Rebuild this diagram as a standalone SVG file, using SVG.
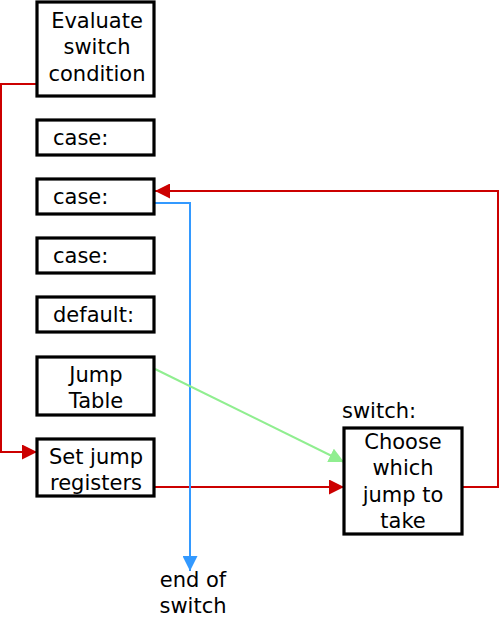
<svg xmlns="http://www.w3.org/2000/svg" width="500" height="620" viewBox="0 0 500 620">
<style>
.box{fill:#fff;stroke:#000;stroke-width:3.2}
.t{font-family:"DejaVu Sans",sans-serif;font-size:21px;fill:#000}
.c{text-anchor:middle}
.red{fill:none;stroke:#cc0000;stroke-width:2}
.blue{fill:none;stroke:#3399ff;stroke-width:2}
.green{fill:none;stroke:#90ee90;stroke-width:2}
</style>
<defs>
<marker id="ar" viewBox="0 0 10 10" refX="10" refY="5" markerWidth="7.5" markerHeight="7.5" markerUnits="strokeWidth" orient="auto"><path d="M0,0L10,5L0,10z" fill="#cc0000"/></marker>
<marker id="ab" viewBox="0 0 10 10" refX="10" refY="5" markerWidth="7.5" markerHeight="7.5" markerUnits="strokeWidth" orient="auto"><path d="M0,0L10,5L0,10z" fill="#3399ff"/></marker>
<marker id="ag" viewBox="0 0 10 10" refX="10" refY="5" markerWidth="7.5" markerHeight="7.5" markerUnits="strokeWidth" orient="auto"><path d="M0,0L10,5L0,10z" fill="#90ee90"/></marker>
</defs>
<g id="connectors">
<path class="red" d="M37,84H1V452H37" marker-end="url(#ar)"/>
<path class="red" d="M155,487H344" marker-end="url(#ar)"/>
<path class="red" d="M463,487H498V191H155" marker-end="url(#ar)"/>
<path class="blue" d="M155,203H190V571" marker-end="url(#ab)"/>
<path class="green" d="M155,369L344,462" marker-end="url(#ag)"/>
</g>
<g id="evaluate"><rect class="box" x="37" y="2" width="117" height="94"/>
<text class="t c" x="97" y="28">Evaluate</text><text class="t c" x="97" y="54">switch</text><text class="t c" x="97" y="81">condition</text></g>
<g id="case1"><rect class="box" x="37" y="120" width="117" height="35"/><text class="t" x="53" y="145">case:</text></g>
<g id="case2"><rect class="box" x="37" y="179" width="117" height="35"/><text class="t" x="53" y="204">case:</text></g>
<g id="case3"><rect class="box" x="37" y="238" width="117" height="35"/><text class="t" x="53" y="263">case:</text></g>
<g id="default"><rect class="box" x="37" y="297" width="117" height="35"/><text class="t" x="53" y="322">default:</text></g>
<g id="jumptable"><rect class="box" x="37" y="357" width="117" height="58"/>
<text class="t c" x="96" y="382">Jump</text><text class="t c" x="96" y="408">Table</text></g>
<g id="setjump"><rect class="box" x="37" y="439" width="117" height="57"/>
<text class="t c" x="96" y="464">Set jump</text><text class="t c" x="96" y="490">registers</text></g>
<g id="choose"><rect class="box" x="344" y="428" width="118" height="106"/>
<text class="t c" x="403" y="449">Choose</text><text class="t c" x="403" y="475">which</text><text class="t c" x="403" y="502">jump to</text><text class="t c" x="403" y="528">take</text></g>
<g id="switchlabel"><text class="t" x="342" y="418">switch:</text></g>
<g id="endlabel"><text class="t c" x="193" y="587">end of</text><text class="t c" x="193" y="613">switch</text></g>
</svg>
